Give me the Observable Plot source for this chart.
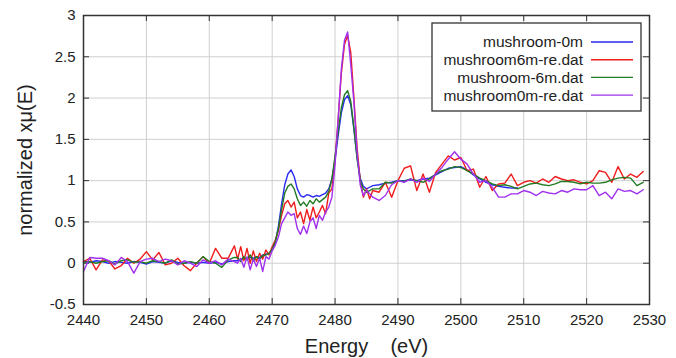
<!DOCTYPE html>
<html><head><meta charset="utf-8">
<script src="https://cdn.jsdelivr.net/npm/d3@7"></script>
<script src="https://cdn.jsdelivr.net/npm/@observablehq/plot@0.6"></script>
<style>body{margin:0;background:#fff}</style>
</head><body><div id="chart"></div>
<script>
const energy = [
2440,2441,2442,2443,2444,2445,2446,2447,2448,2449,2450,2451,2452,2453,2454,2455,2456,2457,2458,2459,2460,2461,2462,2463,2464,
2464.5,2465,2465.5,2466,2466.5,2467,2467.5,2468,2468.5,2469,2469.5,2470,2470.5,2471,2471.5,2472,2472.5,2473,2473.5,2474,2474.5,2475,2475.5,2476,2476.5,2477,2477.5,2478,2478.5,2479,2479.5,2480,2480.5,2481,2481.5,2482,2482.5,2483,2483.5,2484,2484.5,2485,2485.5,2486,
2487,2488,2489,2490,2491,2492,2493,2494,2495,2496,2497,2498,2499,2500,2501,2502,2503,2504,2505,2506,2507,2508,2509,2510,2511,2512,2513,2514,2515,2516,2517,2518,2519,2520,2521,2522,2523,2524,2525,2526,2527,2528,2529];

const mushroom0m = [
0.02,0.01,0.03,0.02,0,0.02,0.01,0,0.02,0.01,-0.01,0.02,0.01,0,0.03,0.01,0,0.01,0,0.01,0,0.01,-0.01,0.02,0.03,
0.03,0.05,0.06,0.05,0.07,0.06,0.08,0.07,0.1,0.11,0.12,0.16,0.25,0.45,0.72,0.95,1.08,1.13,1.05,0.9,0.82,0.8,0.83,0.82,0.8,0.82,0.81,0.83,0.85,0.9,1.02,1.25,1.55,1.82,1.98,2.03,1.92,1.62,1.28,1.03,0.93,0.9,0.92,0.94,
0.95,0.97,0.98,1.0,1.0,1.01,1.0,1.02,1.03,1.07,1.11,1.15,1.16,1.17,1.13,1.07,1.02,0.98,0.95,0.93,0.92,0.91,0.91,
null,null,null,null,null,null,null,null,null,null,null,null,null,null,null,null,null,null,null,null];

const mushroom6mRe = [
0.02,0.06,-0.08,0.04,0.03,-0.07,-0.03,0.06,0,0.05,0.14,0.04,0.13,-0.02,0,0.06,-0.03,-0.09,0,0.08,0,0.18,0.06,0.06,0.21,
0.05,0.2,0.03,0.18,0.0,0.15,0.02,0.12,0.05,0.16,0.1,0.2,0.28,0.4,0.58,0.72,0.76,0.68,0.74,0.55,0.62,0.48,0.65,0.52,0.68,0.55,0.62,0.7,0.6,0.85,0.9,1.25,1.75,2.3,2.65,2.76,2.55,2.0,1.4,1.0,0.8,0.9,0.78,0.88,
0.86,0.98,0.8,1.0,1.15,1.18,0.88,1.08,0.86,1.1,1.2,1.3,1.25,1.28,1.12,1.14,0.92,1.05,0.88,0.96,0.97,1.08,0.94,
0.98,1.0,0.97,1.02,0.98,1.05,1.02,1.0,1.01,0.98,0.96,1.0,1.12,1.1,0.98,1.17,1.02,1.08,1.04,1.11];

const mushroom6m = [
0.01,0.02,0,0.02,0.03,-0.01,0.03,0.04,0.01,0.02,0,0.03,0.02,0,0.04,-0.01,0,0.02,0,0.08,0.02,0,-0.05,0.04,0.07,
0.07,0.02,0.08,0.04,0.1,0.03,0.08,0.05,0.09,0.1,0.12,0.17,0.26,0.42,0.65,0.85,0.93,0.96,0.9,0.78,0.7,0.74,0.69,0.76,0.72,0.78,0.74,0.77,0.8,0.87,1.02,1.3,1.6,1.88,2.04,2.09,1.96,1.64,1.27,1.0,0.9,0.86,0.88,0.9,
0.9,0.98,0.97,1.0,0.99,1.02,1.0,0.98,1.02,1.08,1.12,1.14,1.17,1.16,1.12,1.08,1.03,1.0,0.96,0.94,0.95,0.93,0.9,
0.93,0.96,0.97,0.95,0.94,0.96,0.99,0.99,0.98,0.96,0.98,0.97,0.97,0.98,1.01,1.03,1.04,1.03,0.94,0.98];

const mushroom0mRe = [
-0.1,0.07,0.06,0.06,0.03,-0.02,0.07,0.02,-0.12,0.02,0.05,0.06,0.02,0.05,0.03,-0.02,0.03,0,-0.04,0.04,0,0.03,-0.02,0.05,0.02,
0.0,0.06,-0.05,0.08,-0.08,0.05,-0.04,0.06,-0.1,0.08,0.05,0.15,0.22,0.32,0.48,0.55,0.62,0.58,0.6,0.42,0.35,0.45,0.36,0.5,0.55,0.42,0.58,0.52,0.62,0.68,0.8,1.2,1.75,2.35,2.7,2.8,2.4,1.95,1.35,0.95,0.82,0.88,0.84,0.8,
0.76,0.82,0.95,1.0,0.98,1.02,0.98,1.03,0.99,1.08,1.16,1.26,1.35,1.26,1.2,1.08,0.98,1.0,0.92,0.8,0.8,0.84,0.84,
0.88,0.86,0.82,0.87,0.85,0.84,0.88,0.86,0.9,0.89,0.89,0.94,0.82,0.86,0.78,0.9,0.87,0.88,0.84,0.89];

const seriesNames = ["mushroom-0m", "mushroom6m-re.dat", "mushroom-6m.dat", "mushroom0m-re.dat"];
const seriesColors = ["#2a2af2", "#f01c1c", "#227a22", "#a030ee"];
const xTicks = [2440, 2450, 2460, 2470, 2480, 2490, 2500, 2510, 2520, 2530];
const yTicks = [-0.5, 0, 0.5, 1, 1.5, 2, 2.5, 3];
const xTitle = "Energy\u00a0\u00a0\u00a0\u00a0(eV)";
const yTitle = "normalized xμ(E)";

const W = 676, H = 358, mL = 83, mR = 27, mT = 15, mB = 54;
const pw = W - mL - mR, ph = H - mT - mB;
const valueArrays = [mushroom0m, mushroom6mRe, mushroom6m, mushroom0mRe];
const rows = [];
seriesNames.forEach((s, i) => energy.forEach((e, j) => rows.push({series: s, E: e, v: valueArrays[i][j]})));

const font = "'Liberation Sans', Arial, Helvetica, sans-serif";
const plot = Plot.plot({
  width: W, height: H, marginLeft: mL, marginRight: mR, marginTop: mT, marginBottom: mB,
  style: {fontFamily: font, fontSize: "15px", color: "#222", background: "#fff"},
  x: {domain: [2440, 2530], ticks: xTicks, tickSize: 0, tickPadding: 10, tickFormat: d => String(d), label: null},
  y: {domain: [-0.5, 3], ticks: yTicks, tickSize: 0, tickPadding: 8, tickFormat: d => String(d), label: null},
  color: {domain: seriesNames, range: seriesColors},
  marks: [
    Plot.ruleX(xTicks, {x: d => d, stroke: "#cfcfcf"}),
    Plot.ruleY(yTicks, {y: d => d, stroke: "#cfcfcf"}),
    Plot.tickX(xTicks, {x: d => d, insetTop: ph - 6, stroke: "#333"}),
    Plot.tickX(xTicks, {x: d => d, insetBottom: ph - 6, stroke: "#333"}),
    Plot.tickY(yTicks, {y: d => d, insetRight: pw - 6, stroke: "#333"}),
    Plot.tickY(yTicks, {y: d => d, insetLeft: pw - 6, stroke: "#333"}),
    Plot.line(rows, {x: "E", y: "v", z: "series", stroke: "series", strokeWidth: 1.4}),
    Plot.frame({stroke: "#333", strokeWidth: 1.5}),
    Plot.text([xTitle], {frameAnchor: "bottom", textAnchor: "middle", dy: 48, fontSize: 20, fill: "#222"}),
    Plot.text([yTitle], {frameAnchor: "left", textAnchor: "middle", lineAnchor: "middle", dx: -58, rotate: -90, fontSize: 20, fill: "#222"})
  ]
});
document.getElementById("chart").appendChild(plot);

// legend box (gnuplot style, inside plot)
const svg = d3.select(plot);
const lg = svg.append("g").attr("font-family", font).attr("font-size", 15.5);
const bx = 432, by = 23, bw = 209, bh = 88;
lg.append("rect").attr("x", bx).attr("y", by).attr("width", bw).attr("height", bh)
  .attr("fill", "#fff").attr("stroke", "#333").attr("stroke-width", 1.3);
seriesNames.forEach((s, i) => {
  const yy = by + 19 + i * 17.7;
  lg.append("text").attr("x", 583).attr("y", yy).attr("dy", "0.35em").attr("text-anchor", "end").attr("fill", "#222").text(s);
  lg.append("line").attr("x1", 591).attr("x2", 633).attr("y1", yy).attr("y2", yy)
    .attr("stroke", seriesColors[i]).attr("stroke-width", 1.4);
});
</script>
</body></html>
